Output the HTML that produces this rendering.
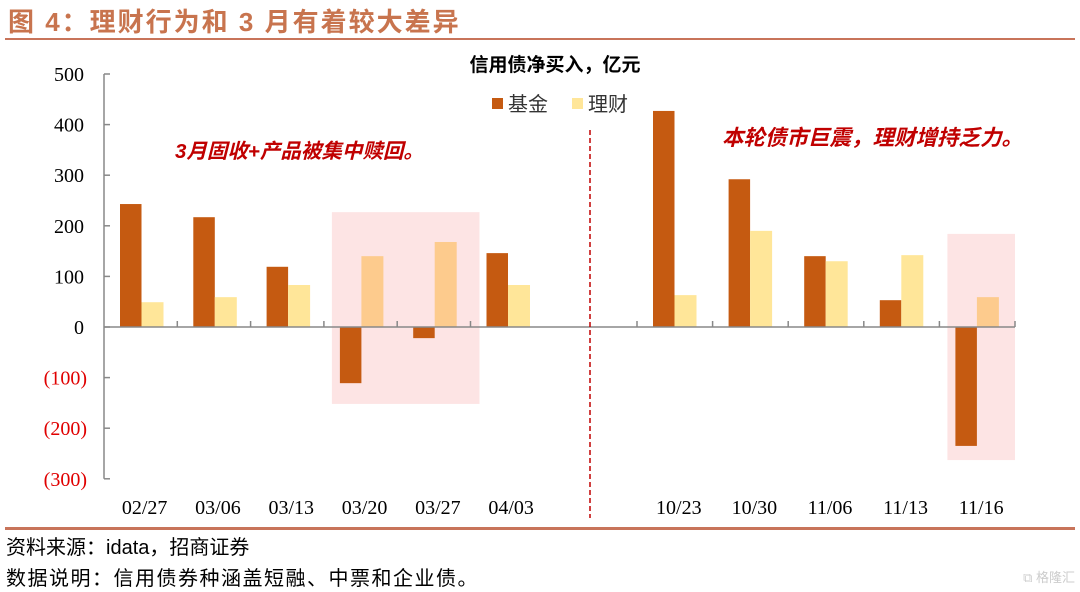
<!DOCTYPE html>
<html><head><meta charset="utf-8"><style>
body{margin:0;background:#fff;}
svg{display:block;}
.cjk{font-family:"Liberation Sans","Noto Sans CJK SC",sans-serif;}
.ser{font-family:"Liberation Serif","Noto Serif CJK SC",serif;}
</style></head><body>
<svg id="chart" width="1080" height="592" viewBox="0 0 1080 592" xmlns="http://www.w3.org/2000/svg">
<text x="8" y="31" class="cjk" font-size="26" font-weight="bold" letter-spacing="2" fill="#c8744e">图 4：理财行为和 3 月有着较大差异</text>
<rect x="5" y="38" width="1070" height="2" fill="#c8745a"/>
<g id="hl"></g>
<g id="bars"></g>
<g id="axes"></g>
<line x1="590" y1="130" x2="590" y2="518" stroke="#c00000" stroke-width="1.5" stroke-dasharray="5,3"/>
<text x="555" y="71" text-anchor="middle" class="cjk" font-size="19" font-weight="bold" fill="#000">信用债净买入，亿元</text>
<rect x="492" y="98" width="11" height="11" fill="#c55a11"/>
<text x="508" y="111" class="cjk" font-size="20" fill="#333">基金</text>
<rect x="572" y="98" width="11" height="11" fill="#ffe699"/>
<text x="588" y="111" class="cjk" font-size="20" fill="#333">理财</text>
<text x="175" y="158" class="cjk" font-size="20.5" font-style="italic" font-weight="bold" fill="#c00000">3月固收+产品被集中赎回。</text>
<text x="722" y="145" class="cjk" font-size="21.5" font-style="italic" font-weight="bold" fill="#c00000">本轮债市巨震，理财增持乏力。</text>
<rect x="5" y="527" width="1070" height="3" fill="#c8745a"/>
<text x="6" y="554" class="cjk" font-size="20" fill="#000">资料来源：idata，招商证券</text>
<text x="6" y="585" class="cjk" font-size="20" letter-spacing="1.5" fill="#000">数据说明：信用债券种涵盖短融、中票和企业债。</text>
<text x="1075" y="582" text-anchor="end" class="cjk" font-size="13" fill="#ccc">⧉ 格隆汇</text>
</svg>
<script>
const categories=["02/27","03/06","03/13","03/20","03/27","04/03","","10/23","10/30","11/06","11/13","11/16"];
const fundValues=[243,217,119,-111,-22,146,null,427,292,140,53,-235];
const wealthValues=[49,59,83,140,168,83,null,63,190,130,142,59];
const highlighted=[false,false,false,true,true,false,false,false,false,false,false,true];
const boxFirst=[3,11];
const boxLast=[4,11];
const boxTop=[227,184];
const boxBottom=[-152,-263];
const yTicks=[500,400,300,200,100,0,-100,-200,-300];
const yTickLabels=["500","400","300","200","100","0","(100)","(200)","(300)"];
const NS="http://www.w3.org/2000/svg";
function y(v){return 327-v*0.506;}
function catStart(i){return i<=6?104+i*73.3:637+(i-7)*75.6;}
function catEnd(i){return i<6?catStart(i+1):(i===6?637:637+(i-6)*75.6);}
function mk(tag,attrs,parent){const e=document.createElementNS(NS,tag);for(const k in attrs)e.setAttribute(k,attrs[k]);parent.appendChild(e);return e;}
const bars=document.getElementById('bars'),axes=document.getElementById('axes'),hl=document.getElementById('hl');
boxFirst.forEach((f,b)=>{
  const x0=catStart(f)+8,x1=boxLast[b]===11?catEnd(11):catEnd(boxLast[b])+9;
  const r=mk('rect',{x:x0,y:y(boxTop[b]),width:x1-x0,height:y(boxBottom[b])-y(boxTop[b]),fill:'#fde4e4'},hl);
  
  
});
categories.forEach((c,i)=>{
  if(fundValues[i]===null)return;
  const s=catStart(i)+16;
  const f=fundValues[i],w=wealthValues[i];
  const rf=mk('rect',{x:s,y:Math.min(y(f),y(0)),width:21.5,height:Math.abs(y(f)-y(0)),fill:'#c55a11'},bars);
  
  
  const rw=mk('rect',{x:s+21.5,y:Math.min(y(w),y(0)),width:22,height:Math.abs(y(w)-y(0)),fill:highlighted[i]?'#fdcb8d':'#ffe699'},bars);
  
  
  const t=mk('text',{x:(catStart(i)+catEnd(i))/2+4,y:514,'text-anchor':'middle','font-size':20,fill:'#000','class':'ser'},axes);
  t.textContent=c;
  
  
});
const ya=mk('line',{x1:104,y1:y(500),x2:104,y2:y(-300),stroke:'#888','stroke-width':1.5},axes);


yTicks.forEach((v,k)=>{
  const tk=mk('line',{x1:104,y1:y(v),x2:110,y2:y(v),stroke:'#888','stroke-width':1.5},axes);
  
  
  const t=mk('text',{x:v<0?87:84,y:y(v)+7,'text-anchor':'end','font-size':20,fill:v<0?'#e00000':'#000','class':'ser'},axes);
  t.textContent=yTickLabels[k];
  
  
});
const xa=mk('line',{x1:104,y1:y(0),x2:1015,y2:y(0),stroke:'#888','stroke-width':1.5},axes);


for(let k=1;k<=12;k++){
  if(k===6)continue;
  const xx=k<=6?catStart(k):catEnd(k-1);
  const tk=mk('line',{x1:xx,y1:y(0),x2:xx,y2:y(0)-6,stroke:'#888','stroke-width':1.5},axes);
  
  
}
</script>
</body></html>
